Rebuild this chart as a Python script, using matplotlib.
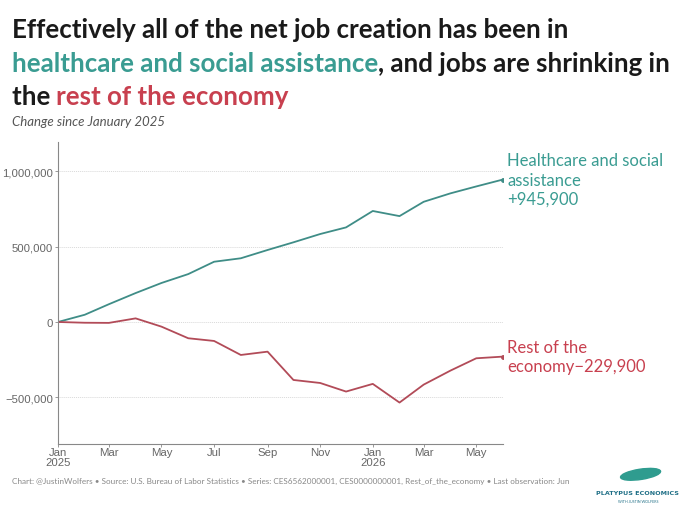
"""
    Net job creation: healthcare vs rest of the economy
"""
import pandas as pd
from matplotlib import pyplot as plt
from matplotlib.patches import Ellipse
from matplotlib.ticker import FuncFormatter

# -- Data: change since January 2025 --
months = pd.date_range("2025-01-01", "2026-06-01", freq="MS")
healthcare = [0, 48000, 118000, 192000, 259000, 318000, 400000, 423000, 478000,
              529000, 584000, 628000, 737000, 703000, 798000, 854000, 900000, 945900]
rest_of_economy = [0, -5000, -6000, 24000, -31000, -108000, -126000, -219000, -197000,
                   -385000, -405000, -462000, -411000, -535000, -416000, -323000, -241000, -229900]

TEAL_LINE = "#3f8d87"
TEAL_TEXT = "#3a9c92"
RED_LINE = "#b24b58"
RED_TEXT = "#c8404f"
GREY = "#666666"

plt.rcParams['font.family'] = ['Lato', 'DejaVu Sans']

fig = plt.figure(figsize=(6.8, 5.1), dpi=100)
ax = fig.add_axes([0.0853, 0.1275, 0.6544, 0.5921])

# -- Lines --
ax.plot(months, healthcare, color=TEAL_LINE, lw=1.3)
ax.plot(months, rest_of_economy, color=RED_LINE, lw=1.3)
ax.plot(months[-1], healthcare[-1], 'o', color=TEAL_LINE, ms=2.5)
ax.plot(months[-1], rest_of_economy[-1], 'o', color=RED_LINE, ms=2.5)

# -- Axes --
def fmt(v, pos):
    s = f"{abs(int(v)):,}"
    return "\u2212" + s if v < 0 else s

ax.set_xlim(months[0], months[-1])
ax.set_ylim(-810000, 1195000)
ax.set_yticks([-500000, 0, 500000, 1000000])
ax.yaxis.set_major_formatter(FuncFormatter(fmt))
tick_months = months[::2]
ax.set_xticks(tick_months)
ax.set_xticklabels([d.strftime("%b") + ("\n" + d.strftime("%Y") if d.month == 1 else "") for d in tick_months],
                   linespacing=0.95)
for lbl in ax.get_xticklabels() + ax.get_yticklabels():
    lbl.set_fontfamily("Liberation Sans")
    lbl.set_fontsize(8.2)
    lbl.set_color(GREY)
ax.tick_params(axis='x', length=2, width=0.6, color="#888888", pad=0.5)
ax.tick_params(axis='y', length=2, width=0.6, color="#888888", pad=1.5)
ax.grid(axis='y', color="#d9d9d9", lw=0.7, ls=(0, (1, 1)))
ax.set_axisbelow(True)
for s in ["top", "right"]:
    ax.spines[s].set_visible(False)
for s in ["left", "bottom"]:
    ax.spines[s].set_color("#888888")
    ax.spines[s].set_linewidth(0.8)

# -- Direct labels --
ax.annotate("Healthcare and social\nassistance\n+945,900", xy=(months[-1], healthcare[-1]),
            xytext=(3, 0), textcoords="offset points", color=TEAL_TEXT, fontsize=12,
            va="center", ha="left", linespacing=1.25, annotation_clip=False)
ax.annotate("Rest of the\neconomy\u2212229,900", xy=(months[-1], rest_of_economy[-1]),
            xytext=(3, 0), textcoords="offset points", color=RED_TEXT, fontsize=12,
            va="center", ha="left", linespacing=1.2, annotation_clip=False)

# -- Title with coloured pieces --
def colored_line(pieces, x, y, size=18.6):
    renderer = fig.canvas.get_renderer()
    for txt, col in pieces:
        t = fig.text(x, y, txt, color=col, fontsize=size, fontweight="bold", va="baseline")
        bb = t.get_window_extent(renderer)
        x += bb.width / fig.bbox.width

colored_line([("Effectively all of the net job creation has been in", "#1a1a1a")], 0.017, 0.925)
colored_line([("healthcare and social assistance", TEAL_TEXT),
              (", and jobs are shrinking in", "#1a1a1a")], 0.017, 0.859)
colored_line([("the ", "#1a1a1a"), ("rest of the economy", RED_TEXT)], 0.017, 0.794)
fig.text(0.017, 0.753, "Change since January 2025", fontsize=9.5, style="italic", color="#555555")

# -- Caption and logo --
fig.text(0.017, 0.052, "Chart: @JustinWolfers \u2022 Source: U.S. Bureau of Labor Statistics \u2022 "
         "Series: CES6562000001, CES0000000001, Rest_of_the_economy \u2022 Last observation: Jun",
         fontsize=5.9, color="#888888")
fig.patches.append(Ellipse((0.942, 0.068), 0.06, 0.02, angle=12, color="#2f9c8f",
                           transform=fig.transFigure, figure=fig))
fig.text(0.938, 0.030, "PLATYPUS ECONOMICS", fontsize=4.6, fontweight="heavy", color="#1f6f86",
         ha="center", family="DejaVu Sans")
fig.text(0.938, 0.014, "WITH JUSTIN WOLFERS", fontsize=2.6, color="#1f6f86", ha="center")

plt.savefig("out.png", dpi=100)
